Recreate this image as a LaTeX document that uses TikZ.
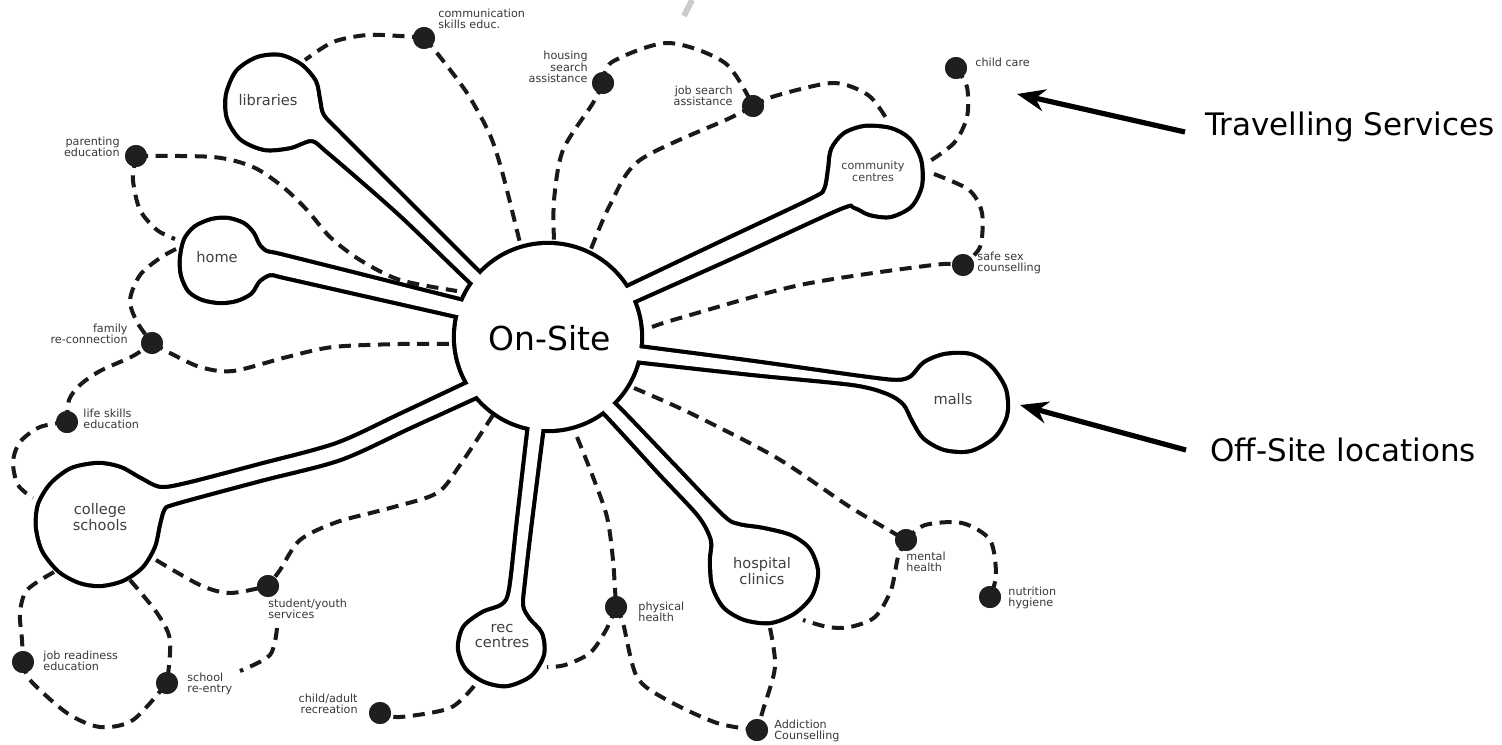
\documentclass[tikz,border=0pt]{standalone}
\usepackage{fontspec}
\setmainfont{DejaVu Sans}
\usetikzlibrary{arrows.meta}
\newcommand\allshapes[1]{%
 \path[#1] (548,337) circle[radius=92];
 % libraries
 \path[#1] plot[smooth cycle] coordinates {(510,315) (472,282) (400,213) (330,152) (312,139) (290,146) (265,148) (242,138) (229,118) (228,95) (238,72) (258,59) (280,57) (300,66) (314,82) (318,100) (322,116) (340,135) (400,195) (475,270) (511,305)};
 % home
 \path[#1] plot[smooth cycle] coordinates {(501,325) (457,315) (360,293) (285,276) (270,273) (258,280) (250,292) (236,299) (220,301) (203,298) (190,290) (183,275) (182,258) (186,240) (196,228) (212,221) (228,220) (243,225) (252,234) (258,246) (266,253) (280,256) (360,276) (463,302) (507,313)};
 % college schools
 \path[#1] plot[smooth cycle] coordinates {(511,364) (470,383) (400,416) (337,445) (260,466) (187,485) (160,489) (140,480) (120,469) (98,465) (72,470) (52,485) (40,505) (38,527) (44,550) (60,570) (80,581) (100,584) (122,579) (141,566) (153,546) (158,524) (163,508) (175,502) (260,479) (340,458) (410,426) (478,395) (519,376)};
 % rec centres
 \path[#1] plot[smooth cycle] coordinates {(535,385) (530,425) (519,520) (511,590) (503,606) (483,614) (465,628) (460,648) (467,667) (485,680) (507,684) (530,674) (542,654) (540,634) (528,620) (521,606) (523,580) (530,520) (542,425) (547,385)};
 % hospital clinics
 \path[#1] plot[smooth cycle] coordinates {(578,376) (612,403) (670,463) (722,517) (738,526) (763,530) (790,537) (808,550) (816,572) (810,595) (793,612) (770,621) (745,618) (725,606) (714,585) (712,560) (713,540) (700,515) (660,472) (604,411) (574,383)};
 % malls
 \path[#1] plot[smooth cycle] coordinates {(595,342) (638,348) (753,363) (860,378) (897,382) (912,378) (925,364) (945,356) (970,356) (990,368) (1004,390) (1005,415) (993,436) (970,449) (945,448) (925,437) (914,420) (905,403) (888,392) (853,383) (753,373) (635,360) (592,355)};
 % community centres
 \path[#1] plot[smooth cycle] coordinates {(582,309) (623,290) (720,244) (813,200) (826,190) (830,170) (833,150) (845,135) (865,128) (890,130) (908,140) (919,160) (920,185) (910,205) (890,215) (870,213) (855,206) (840,207) (735,255) (630,302) (590,320)};
}
\begin{document}
\begin{tikzpicture}[x=0.5pt,y=-0.5pt,
  dsh/.style={line width=2pt, dash pattern=on 6pt off 3.8pt, black!90},
  dotnode/.style={circle, fill=black!88, inner sep=0pt, minimum size=11pt},
  small/.style={font=\fontsize{5.6}{5.8}\selectfont, text=black!78, inner sep=0pt},
  bulblabel/.style={font=\fontsize{7.3}{7.8}\selectfont, text=black!75, align=center, inner sep=0pt},
  outl/.style={draw=black, line width=4.2pt, line join=round},
  inn/.style={fill=white},
  bigarrow/.style={line width=2.6pt, -{Stealth[length=14pt,width=11pt]}},
  bigtext/.style={font=\fontsize{15.5}{18}\selectfont, anchor=west, inner sep=0pt}
  ]
\useasboundingbox (0,0) rectangle (1502,744);
\fill[white] (0,0) rectangle (1502,744);
\draw[gray!40, line width=3pt] (692,0) -- (684,16);

% outlined union of circle, stems and bulbs
\allshapes{outl}
\allshapes{inn}

% dots
\node[dotnode] (comm) at (424,38) {};
\node[dotnode] (housing) at (603,83) {};
\node[dotnode] (job) at (753,106) {};
\node[dotnode] (child) at (956,68) {};
\node[dotnode] (safe) at (963,265) {};
\node[dotnode] (parent) at (136,156) {};
\node[dotnode] (family) at (152,343) {};
\node[dotnode] (life) at (67,422) {};
\node[dotnode] (jobr) at (23,662) {};
\node[dotnode] (school) at (167,683) {};
\node[dotnode] (stu) at (268,586) {};
\node[dotnode] (chad) at (380,713) {};
\node[dotnode] (phys) at (616,607) {};
\node[dotnode] (addict) at (757,730) {};
\node[dotnode] (mental) at (906,540) {};
\node[dotnode] (nutr) at (990,597) {};

% free ends on the shapes
\coordinate (libTR) at (305,60);
\coordinate (cT1) at (520,243);
\coordinate (cT2) at (554,240);
\coordinate (cT3) at (591,249);
\coordinate (comT) at (886,118);
\coordinate (comR1) at (927,163);
\coordinate (comR2) at (934,174);
\coordinate (cR) at (652,327);
\coordinate (cRB) at (634,388);
\coordinate (hosBR) at (803,620);
\coordinate (hosB) at (770,628);
\coordinate (cB) at (577,437);
\coordinate (recR) at (547,667);
\coordinate (recBL) at (474,686);
\coordinate (cBL) at (493,415);
\coordinate (colBR) at (156,560);
\coordinate (colB) at (130,580);
\coordinate (colBL) at (54,572);
\coordinate (colTL) at (33,498);
\coordinate (cL) at (454,344);
\coordinate (homeTL) at (175,239);
\coordinate (homeL) at (176,249);
\coordinate (wedge) at (457,291);
\coordinate (stuB) at (277,628);
\coordinate (schR) at (240,671);

% dashed connectors
\draw[dsh] plot[smooth] coordinates {(comm) (400,36) (367,35) (333,42) (libTR)};
\draw[dsh] plot[smooth] coordinates {(comm) (437,53) (467,93) (490,135) (503,175) (cT1)};
\draw[dsh] plot[smooth] coordinates {(housing) (593,103) (563,150) (554,200) (cT2)};
\draw[dsh] plot[smooth] coordinates {(housing) (612,62) (668,43) (725,63) (job)};
\draw[dsh] plot[smooth] coordinates {(job) (730,118) (640,160) (610,205) (cT3)};
\draw[dsh] plot[smooth] coordinates {(job) (775,96) (833,83) (868,95) (comT)};
\draw[dsh] plot[smooth] coordinates {(child) (967,87) (967,117) (954,143) (comR1)};
\draw[dsh] plot[smooth] coordinates {(comR2) (969,190) (982,213) (980,247) (safe)};
\draw[dsh] plot[smooth] coordinates {(cR) (680,318) (800,285) (933,265) (safe)};
\draw[dsh] plot[smooth] coordinates {(cRB) (690,413) (777,458) (850,507) (mental)};
\draw[dsh] plot[smooth] coordinates {(mental) (898,557) (891,590) (875,617) (850,627) (828,627) (hosBR)};
\draw[dsh] plot[smooth] coordinates {(mental) (925,525) (962,523) (990,540) (996,575) (nutr)};
\draw[dsh] plot[smooth] coordinates {(hosB) (775,667) (763,710) (addict)};
\draw[dsh] plot[smooth] coordinates {(phys) (623,623) (637,677) (667,700) (717,723) (addict)};
\draw[dsh] plot[smooth] coordinates {(cB) (593,477) (607,517) (613,560) (phys)};
\draw[dsh] plot[smooth] coordinates {(phys) (606,630) (590,653) (565,665) (recR)};
\draw[dsh] plot[smooth] coordinates {(recBL) (450,708) (400,717) (chad)};
\draw[dsh] plot[smooth] coordinates {(cBL) (460,465) (437,493) (390,508) (337,522) (300,540) (280,570) (stu)};
\draw[dsh] plot[smooth] coordinates {(colBR) (200,585) (230,593) (stu)};
\draw[dsh] plot[smooth] coordinates {(stuB) (270,655) (schR)};
\draw[dsh] plot[smooth] coordinates {(colB) (157,613) (170,640) (school)};
\draw[dsh] plot[smooth] coordinates {(colBL) (27,590) (20,613) (22,640) (jobr)};
\draw[dsh] plot[smooth] coordinates {(jobr) (30,680) (67,713) (100,727) (133,720) (school)};
\draw[dsh] plot[smooth] coordinates {(life) (40,427) (20,442) (13,462) (18,485) (colTL)};
\draw[dsh] plot[smooth] coordinates {(life) (69,400) (80,385) (100,371) (133,356) (family)};
\draw[dsh] plot[smooth] coordinates {(family) (170,353) (200,367) (233,371) (287,357) (333,347) (400,344) (cL)};
\draw[dsh] plot[smooth] coordinates {(homeL) (160,258) (140,275) (130,300) (137,322) (family)};
\draw[dsh] plot[smooth] coordinates {(parent) (133,180) (140,210) (157,230) (homeTL)};
\draw[dsh] plot[smooth] coordinates {(parent) (213,157) (253,167) (283,187) (307,210) (330,237) (360,260) (400,280) (wedge)};

% redraw dots on top
\foreach \d in {comm,housing,job,child,safe,parent,family,life,jobr,school,stu,chad,phys,addict,mental,nutr}
  \fill[black!88] (\d) circle[radius=11];

% small labels
\node[small, anchor=west, align=left] (lcomm) at (438,19) {communication\\skills educ.};
\node[small, anchor=east, align=right] (lhousing) at (588,67) {housing\\search\\assistance};
\node[small, anchor=east, align=right] (ljob) at (733,96) {job search\\assistance};
\node[small, anchor=west, align=left] (lchild) at (975,62) {child care};
\node[small, anchor=west, align=left] (lsafe) at (977,263) {safe sex\\counselling};
\node[small, anchor=east, align=right] (lparent) at (120,147) {parenting\\education};
\node[small, anchor=east, align=right] (lfamily) at (128,334) {family\\re-connection};
\node[small, anchor=west, align=left] (llife) at (83,419) {life skills\\education};
\node[small, anchor=west, align=left] (ljobr) at (43,661) {job readiness\\education};
\node[small, anchor=west, align=left] (lschool) at (187,684) {school\\re-entry};
\node[small, anchor=west, align=left] (lstu) at (268,609) {student/youth\\services};
\node[small, anchor=east, align=right] (lchad) at (358,704) {child/adult\\recreation};
\node[small, anchor=west, align=left] (lphys) at (638,612) {physical\\health};
\node[small, anchor=west, align=left] (laddict) at (774,731) {Addiction\\Counselling};
\node[small, anchor=west, align=left] (lmental) at (906,562) {mental\\health};
\node[small, anchor=west, align=left] (lnutr) at (1008,598) {nutrition\\hygiene};

% bulb labels
\node[bulblabel] (lib) at (268,100) {libraries};
\node[bulblabel] (home) at (217,257) {home};
\node[bulblabel] (col) at (100,517) {college\\schools};
\node[bulblabel] (rec) at (502,636) {rec\\centres};
\node[bulblabel] (hos) at (762,571) {hospital\\clinics};
\node[bulblabel] (malls) at (953,399) {malls};
\node[bulblabel, font=\fontsize{5.6}{5.9}\selectfont] (com) at (873,171) {community\\centres};
\node[font=\fontsize{16.5}{18}\selectfont, inner sep=0pt] (onsite) at (550,338) {On-Site};

% legend arrows
\node[bigtext] (ts) at (1205,127) {Travelling Services};
\node[bigtext] (os) at (1210,450) {Off-Site locations};
\coordinate (tsTail) at (1185,132);
\coordinate (tsTip) at (1017,94);
\coordinate (osTail) at (1186,450);
\coordinate (osTip) at (1020,405);
\draw[bigarrow] (tsTail) -- (tsTip);
\draw[bigarrow] (osTail) -- (osTip);
\end{tikzpicture}
\end{document}
